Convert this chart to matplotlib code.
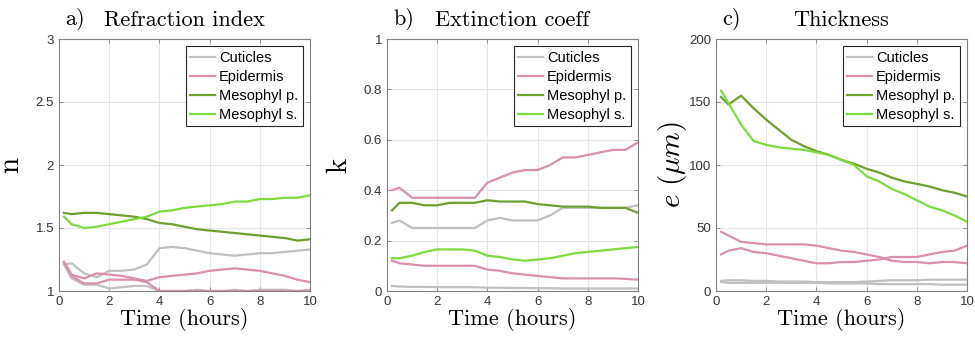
import matplotlib
matplotlib.use('Agg')
import matplotlib.pyplot as plt

plt.rcParams['mathtext.fontset'] = 'cm'

# time axis (hours)
t = [0.2, 0.5, 1.0, 1.5, 2.0, 2.5, 3.0, 3.5, 4.0, 4.5, 5.0,
     5.5, 6.0, 6.5, 7.0, 7.5, 8.0, 8.5, 9.0, 9.5, 10.0]

labels = ['Cuticles', 'Epidermis', 'Mesophyl p.', 'Mesophyl s.']
colors = ['#BFBFBF', '#D98FAD', '#6EA02C', '#7DDB3C']

# a) refraction index, two fits per layer
n_cut1 = [1.21, 1.22, 1.14, 1.11, 1.16, 1.16, 1.17, 1.21, 1.34, 1.35, 1.34,
          1.32, 1.30, 1.29, 1.28, 1.29, 1.30, 1.30, 1.31, 1.32, 1.33]
n_cut2 = [1.21, 1.10, 1.05, 1.05, 1.02, 1.03, 1.04, 1.04, 1.00, 1.00, 1.00,
          1.01, 1.00, 1.00, 1.01, 1.00, 1.01, 1.01, 1.01, 1.00, 1.01]
n_epi1 = [1.23, 1.13, 1.10, 1.14, 1.13, 1.12, 1.10, 1.08, 1.11, 1.12, 1.13,
          1.14, 1.16, 1.17, 1.18, 1.17, 1.16, 1.14, 1.12, 1.09, 1.07]
n_epi2 = [1.23, 1.12, 1.06, 1.06, 1.09, 1.09, 1.09, 1.07, 1.00, 1.00, 1.00,
          1.00, 1.00, 1.00, 1.00, 1.00, 1.00, 1.00, 1.00, 1.00, 1.00]
n_mp = [1.62, 1.61, 1.62, 1.62, 1.61, 1.60, 1.59, 1.57, 1.54, 1.53, 1.51,
        1.49, 1.48, 1.47, 1.46, 1.45, 1.44, 1.43, 1.42, 1.40, 1.41]
n_ms = [1.59, 1.53, 1.50, 1.51, 1.53, 1.55, 1.57, 1.59, 1.63, 1.64, 1.66,
        1.67, 1.68, 1.69, 1.71, 1.71, 1.73, 1.73, 1.74, 1.74, 1.76]

# b) extinction coefficient
k_cut1 = [0.27, 0.28, 0.25, 0.25, 0.25, 0.25, 0.25, 0.25, 0.28, 0.29, 0.28,
          0.28, 0.28, 0.30, 0.33, 0.33, 0.33, 0.33, 0.33, 0.33, 0.34]
k_cut2 = [0.020, 0.018, 0.016, 0.016, 0.015, 0.015, 0.015, 0.015, 0.013, 0.013, 0.012,
          0.012, 0.011, 0.011, 0.010, 0.010, 0.010, 0.010, 0.010, 0.010, 0.010]
k_epi1 = [0.40, 0.41, 0.37, 0.37, 0.37, 0.37, 0.37, 0.37, 0.43, 0.45, 0.47,
          0.48, 0.48, 0.50, 0.53, 0.53, 0.54, 0.55, 0.56, 0.56, 0.59]
k_epi2 = [0.12, 0.11, 0.105, 0.10, 0.10, 0.10, 0.10, 0.10, 0.085, 0.08, 0.07,
          0.065, 0.06, 0.055, 0.05, 0.05, 0.05, 0.05, 0.05, 0.048, 0.045]
k_mp = [0.32, 0.35, 0.35, 0.34, 0.34, 0.35, 0.35, 0.35, 0.36, 0.355, 0.355,
        0.355, 0.345, 0.34, 0.335, 0.335, 0.335, 0.33, 0.33, 0.33, 0.31]
k_ms = [0.13, 0.13, 0.14, 0.155, 0.165, 0.165, 0.165, 0.16, 0.14, 0.135, 0.125,
        0.12, 0.125, 0.13, 0.14, 0.15, 0.155, 0.16, 0.165, 0.17, 0.175]

# c) thickness (um)
e_cut1 = [8.0, 8.5, 8.5, 8.0, 8.0, 7.5, 7.5, 7.5, 7.0, 7.0, 7.0,
          7.0, 7.5, 8.0, 8.5, 8.5, 8.5, 9.0, 9.0, 9.0, 9.0]
e_cut2 = [7.0, 6.5, 6.5, 6.5, 6.5, 6.5, 6.5, 6.5, 6.5, 6.0, 6.0,
          6.0, 6.0, 5.5, 5.5, 5.5, 5.5, 5.5, 5.0, 5.0, 5.0]
e_epi1 = [47, 44, 39, 38, 37, 37, 37, 37, 36, 34, 32,
          31, 29, 27, 24, 23, 23, 22, 23, 23, 22]
e_epi2 = [29, 32, 34, 31, 30, 28, 26, 24, 22, 22, 23,
          23, 24, 25, 27, 27, 27, 29, 31, 32, 36]
e_mp = [154, 148, 155, 145, 136, 128, 120, 115, 111, 108, 104,
        101, 97, 94, 90, 87, 85, 83, 80, 78, 75]
e_ms = [159, 149, 132, 119, 116, 114, 113, 112, 110, 108, 104,
        100, 91, 87, 81, 77, 72, 67, 64, 60, 55]

panels = [
    ('a)', 'Refraction index', 'n', (1, 3), [1, 1.5, 2, 2.5, 3],
     [n_cut1, n_epi1, n_mp, n_ms], [n_cut2, n_epi2]),
    ('b)', 'Extinction coeff', 'k', (0, 1), [0, 0.2, 0.4, 0.6, 0.8, 1],
     [k_cut1, k_epi1, k_mp, k_ms], [k_cut2, k_epi2]),
    ('c)', 'Thickness', r'$e\ (\mu m)$', (0, 200), [0, 50, 100, 150, 200],
     [e_cut1, e_epi1, e_mp, e_ms], [e_cut2, e_epi2]),
]

fig = plt.figure(figsize=(9.75, 3.39), dpi=100)
lefts = [59, 387, 716]
W, H = 975, 339

for (letter, title, ylab, ylim, yt, main, extra), lx in zip(panels, lefts):
    ax = fig.add_axes([lx / W, (H - 291) / H, 251 / W, 252 / H])
    for y, c, lab in zip(main, colors, labels):
        ax.plot(t, y, color=c, lw=1.6, label=lab)
    for y, c in zip(extra, colors[:2]):
        ax.plot(t, y, color=c, lw=1.6)
    ax.set_xlim(0, 10)
    ax.set_ylim(*ylim)
    ax.set_xticks([0, 2, 4, 6, 8, 10])
    ax.set_yticks(yt)
    ax.set_yticklabels([('%g' % v) for v in yt])
    ax.grid(True, color='#E6E6E6', lw=0.8)
    ax.tick_params(direction='in', length=3, width=0.6, colors='#808080',
                   labelcolor='#333333', labelsize=9.5, top=True, right=True)
    for lbl in ax.get_xticklabels() + ax.get_yticklabels():
        lbl.set_family('Liberation Sans')
    for s in ax.spines.values():
        s.set_color('#808080')
        s.set_linewidth(0.8)
    ax.set_xlabel('Time (hours)', fontfamily='cmr10', fontsize=16, labelpad=0)
    if ylab.startswith('$'):
        ax.set_ylabel(ylab, fontsize=21, labelpad=0)
    else:
        ax.set_ylabel(ylab, fontfamily='cmr10', fontsize=21, labelpad=8)
    ax.set_title(title, fontfamily='cmr10', fontsize=16, pad=9)
    ax.text(0.025, 1.035, letter, transform=ax.transAxes, fontfamily='cmr10',
            fontsize=16, ha='left', va='bottom')
    leg = ax.legend(loc='upper right', handlelength=1.7,
                    handletextpad=0.3, labelspacing=0.35, borderpad=0.3,
                    fancybox=False, framealpha=1, edgecolor='#262626',
                    borderaxespad=0.5, prop={'family': 'Liberation Sans', 'size': 10.5})
    leg.get_frame().set_linewidth(0.8)

fig.savefig('out.png', dpi=100)
